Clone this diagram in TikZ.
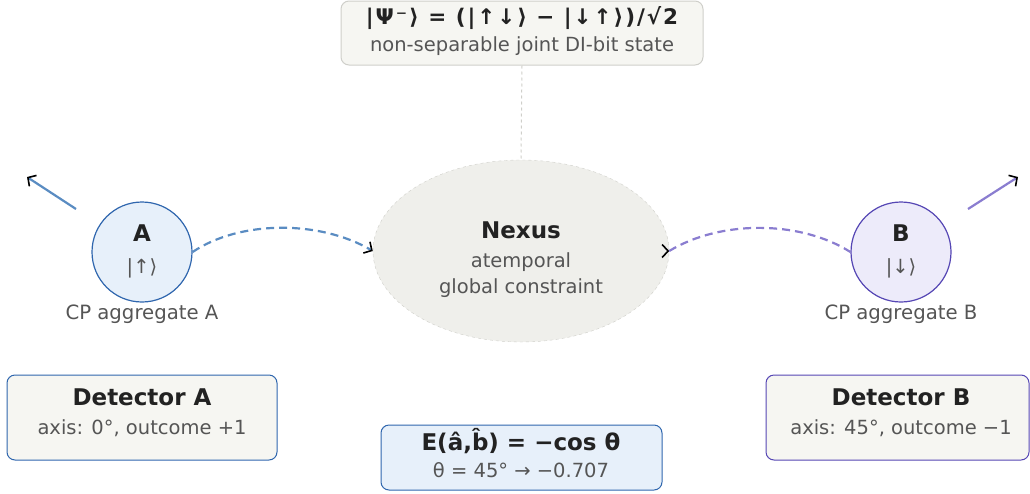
\documentclass[tikz,border=0pt]{standalone}
\usepackage{fontspec}
\setmainfont{DejaVu Sans}
\usetikzlibrary{shapes.geometric,arrows.meta}
\definecolor{paper}{HTML}{F6F6F2}
\definecolor{rim}{HTML}{CFCFCA}
\definecolor{nexfill}{HTML}{EFEFEB}
\definecolor{ablue}{HTML}{2F66AE}
\definecolor{afill}{HTML}{E7F0FA}
\definecolor{adash}{HTML}{5A8CC2}
\definecolor{bpurple}{HTML}{5546B4}
\definecolor{bfill}{HTML}{EDEBFA}
\definecolor{bdash}{HTML}{8A7DD0}
\definecolor{ink}{HTML}{222222}
\definecolor{greyink}{HTML}{555555}
\tikzset{
  head/.style={font=\fontsize{23}{26}\selectfont\bfseries,text=ink},
  sub/.style={font=\fontsize{19.5}{22}\selectfont,text=greyink},
  card/.style={draw,rounded corners=8pt,line width=1pt,inner sep=0pt},
  agg/.style={circle,draw,line width=1.2pt,minimum size=100pt,inner sep=0pt},
  tip/.style={-{Straight Barb[black,length=6pt,width=13pt,line width=1.6pt]}},
}
\begin{document}
\begin{tikzpicture}[x=1pt,y=-1pt]
\useasboundingbox (0,0) rectangle (1030,493);
% joint state
\node[card,draw=rim,fill=paper,minimum width=362pt,minimum height=64pt] (state) at (522,33) {};
\node[head,font=\fontsize{21.5}{24}\selectfont\bfseries\addfontfeature{LetterSpace=9}] (statetitle) at (522,18) {|Ψ⁻⟩ = (|↑↓⟩ − |↓↑⟩)/√2};
\node[sub] (statesub) at (522,46) {non-separable joint DI-bit state};
% nexus
\node[ellipse,draw=rim,dashed,fill=nexfill,minimum width=296pt,minimum height=182pt] (nexus) at (521,251) {};
\draw[rim,dashed,line width=1pt] (state.south) -- (nexus.north);
\node[head] (nexname) at (521,230) {Nexus};
\node[sub] (nexsub1) at (521,262) {atemporal};
\node[sub] (nexsub2) at (521,288) {global constraint};
% aggregates
\node[agg,draw=ablue,fill=afill] (A) at (142,252) {};
\node[head] (Aname) at (142,233) {A};
\node[sub] (Aket) at (142,268) {|↑⟩};
\node[sub,font=\fontsize{19.7}{22}\selectfont] (Alabel) at (142,314) {CP aggregate A};
\node[agg,draw=bpurple,fill=bfill] (B) at (901,252) {};
\node[head] (Bname) at (901,233) {B};
\node[sub] (Bket) at (901,268) {|↓⟩};
\node[sub,font=\fontsize{19.7}{22}\selectfont] (Blabel) at (901,314) {CP aggregate B};
\draw[adash,line width=2.2pt,dash pattern=on 8pt off 5pt,tip] (A.east) .. controls (240,220) and (320,220) .. (nexus.west);
\draw[bdash,line width=2.2pt,dash pattern=on 8pt off 5pt] (nexus.east) .. controls (720,220) and (800,220) .. (B.west);
\draw[bdash,line width=0.1pt,tip] ([xshift=-1pt]nexus.east) -- (nexus.east);
% outgoing
\coordinate (Aout) at (76,209);
\coordinate (Afar) at (27,177);
\coordinate (Bout) at (968,209);
\coordinate (Bfar) at (1018,177);
\draw[adash,line width=2.2pt,tip] (Aout) -- (Afar);
\draw[bdash,line width=2.2pt,tip] (Bout) -- (Bfar);
% detectors
\node[card,draw=ablue,fill=paper,minimum width=270pt,minimum height=85pt] (detA) at (142,417.5) {};
\node[head] (detAname) at (142,397) {Detector A};
\node[sub] (detAaxis) at (142,428) {axis: 0°, outcome +1};
\node[card,draw=bpurple,fill=paper,minimum width=263pt,minimum height=85pt] (detB) at (897.5,417.5) {};
\node[head] (detBname) at (901,397) {Detector B};
\node[sub] (detBaxis) at (901,428) {axis: 45°, outcome −1};
% correlation
\node[card,draw=ablue,fill=afill,minimum width=281pt,minimum height=65pt] (corr) at (521.5,457.5) {};
\node[head] (corrformula) at (521,441) {E(â,b̂) = −cos θ};
\node[sub] (corrvalue) at (521,470) {θ = 45° → −0.707};
\end{tikzpicture}
\end{document}
